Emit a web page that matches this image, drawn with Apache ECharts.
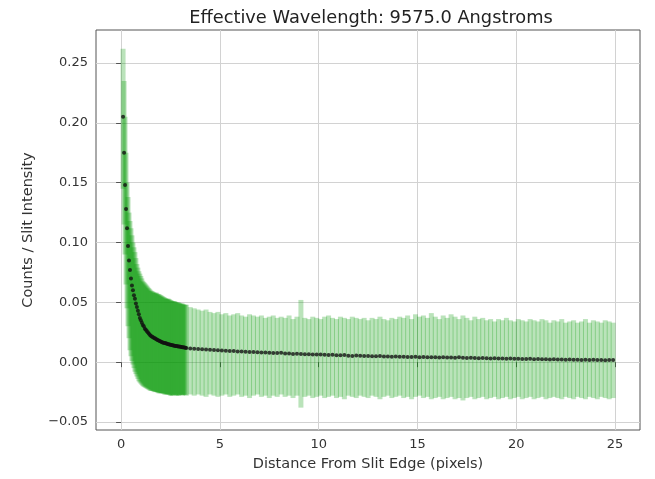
<!DOCTYPE html>
<html>
<head>
<meta charset="utf-8">
<script src="https://cdn.jsdelivr.net/npm/echarts/dist/echarts.min.js"></script>
<style>
html,body{margin:0;padding:0;background:#fff;}
#chart{width:655px;height:479px;}
</style>
</head>
<body>
<div id="chart"></div>
<script>
// ---- data ----
const titleText = 'Effective Wavelength: 9575.0 Angstroms';
const xName = 'Distance From Slit Edge (pixels)';
const yName = 'Counts / Slit Intensity';
const xTicks = [0, 5, 10, 15, 20, 25];
const yTicks = [-0.05, 0, 0.05, 0.10, 0.15, 0.20, 0.25];

const distance = [
  0.1,0.2,0.3,0.4,0.5,0.6,0.7,0.8,0.9,1.0,
  1.1,1.2,1.3,1.4,1.5,1.6,1.7,1.8,1.9,2.0,
  2.1,2.2,2.3,2.4,2.5,2.6,2.7,2.8,2.9,3.0,
  3.1,3.2,3.3,
  0.15,0.25,0.35,0.45,0.55,0.65,0.75,0.85,0.95,1.05,
  1.15,1.25,1.35,1.45,1.55,1.65,1.75,1.85,1.95,2.05,
  2.15,2.25,2.35,2.45,2.55,2.65,2.75,2.85,2.95,3.05,
  3.15,3.25,
  3.5,3.7,3.9,4.1,4.3,4.5,4.7,4.9,5.1,5.3,
  5.5,5.7,5.9,6.1,6.3,6.5,6.7,6.9,7.1,7.3,
  7.5,7.7,7.9,8.1,8.3,8.5,8.7,8.9,9.1,9.3,
  9.5,9.7,9.9,10.1,10.3,10.5,10.7,10.9,11.1,11.3,
  11.5,11.7,11.9,12.1,12.3,12.5,12.7,12.9,13.1,13.3,
  13.5,13.7,13.9,14.1,14.3,14.5,14.7,14.9,15.1,15.3,
  15.5,15.7,15.9,16.1,16.3,16.5,16.7,16.9,17.1,17.3,
  17.5,17.7,17.9,18.1,18.3,18.5,18.7,18.9,19.1,19.3,
  19.5,19.7,19.9,20.1,20.3,20.5,20.7,20.9,21.1,21.3,
  21.5,21.7,21.9,22.1,22.3,22.5,22.7,22.9,23.1,23.3,
  23.5,23.7,23.9,24.1,24.3,24.5,24.7,24.9
];
const counts = [
  .205,.148,.112,.085,.070,.060,.053,.046,.040,.035,
  .031,.028,.026,.024,.022,.021,.020,.019,.018,.0172,
  .0165,.016,.0155,.015,.0146,.0142,.0138,.0135,.0131,.0128,
  .0125,.0122,.0119,
  .175,.128,.097,.077,.064,.056,.049,.043,.037,.033,
  .030,.027,.025,.023,.0215,.0205,.0195,.0185,.0176,.0168,
  .0162,.0157,.0152,.0148,.0144,.0140,.0136,.0133,.0130,.0127,
  .0124,.0121,
  .0115,.0112,.0110,.0108,.0106,.0104,.0101,.0100,.0097,.0096,
  .0094,.0093,.0090,.0089,.0088,.0085,.0084,.0083,.0080,.0081,
  .0078,.0077,.0076,.0078,.0073,.0072,.0068,.0070,.0069,.0066,
  .0067,.0064,.0063,.0065,.0061,.0060,.0062,.0058,.0057,.0059,
  .0054,.0052,.0055,.0053,.0051,.0052,.0050,.0049,.0051,.0047,
  .0048,.0046,.0047,.0045,.0046,.0044,.0043,.0045,.0042,.0043,
  .0041,.0040,.0042,.0039,.0040,.0038,.0039,.0037,.0040,.0036,
  .0035,.0037,.0034,.0033,.0035,.0032,.0031,.0033,.0030,.0031,
  .0029,.0030,.0028,.0029,.0027,.0026,.0028,.0025,.0026,.0024,
  .0025,.0023,.0024,.0022,.0023,.0021,.0022,.0020,.0021,.0019,
  .0021,.0018,.0020,.0017,.0019,.0016,.0018,.0017
];
const upper = [
  .262,.205,.150,.125,.112,.100,.092,.082,.076,.072,
  .068,.066,.064,.062,.060,.059,.058,.058,.057,.056,
  .055,.054,.053,.053,.052,.051,.051,.050,.050,.049,
  .049,.048,.048,
  .235,.175,.138,.118,.106,.096,.087,.079,.074,.070,
  .067,.065,.063,.061,.0595,.0585,.058,.057,.0565,.0555,
  .0545,.0535,.053,.0525,.0515,.051,.0505,.050,.0495,.049,
  .0485,.048,
  .046,.045,.044,.043,.044,.042,.041,.042,.040,.041,
  .039,.040,.041,.039,.038,.040,.039,.038,.039,.037,
  .038,.039,.037,.038,.037,.039,.036,.038,.052,.037,
  .036,.038,.037,.036,.038,.039,.037,.036,.038,.037,
  .036,.038,.037,.036,.037,.035,.037,.036,.038,.036,
  .035,.037,.036,.038,.037,.039,.036,.040,.038,.039,
  .037,.041,.038,.036,.039,.037,.040,.038,.036,.039,
  .037,.035,.038,.036,.037,.035,.036,.034,.036,.035,
  .037,.035,.034,.036,.035,.034,.036,.035,.034,.036,
  .035,.033,.035,.034,.036,.033,.034,.035,.033,.034,
  .036,.033,.035,.034,.033,.035,.034,.033
];
const lower = [
  .145,.090,.045,.020,.005,-.002,-.008,-.012,-.016,-.018,
  -.020,-.021,-.022,-.023,-.024,-.024,-.025,-.025,-.026,-.026,
  -.026,-.027,-.027,-.027,-.028,-.028,-.027,-.028,-.028,-.027,
  -.028,-.027,-.028,
  .115,.065,.030,.010,.001,-.005,-.010,-.014,-.017,-.019,
  -.0205,-.0215,-.0225,-.0235,-.024,-.0245,-.025,-.0255,-.026,-.026,
  -.0265,-.027,-.027,-.0275,-.028,-.0275,-.0275,-.028,-.0275,-.0275,
  -.0275,-.0275,
  -.027,-.028,-.027,-.028,-.029,-.027,-.028,-.029,-.028,-.027,
  -.029,-.028,-.027,-.029,-.028,-.030,-.028,-.027,-.029,-.028,
  -.030,-.028,-.029,-.027,-.029,-.028,-.030,-.028,-.038,-.029,
  -.028,-.030,-.029,-.028,-.030,-.029,-.028,-.030,-.029,-.031,
  -.028,-.029,-.030,-.028,-.029,-.030,-.028,-.029,-.031,-.029,
  -.028,-.030,-.029,-.028,-.030,-.029,-.031,-.029,-.028,-.030,
  -.029,-.031,-.030,-.029,-.031,-.030,-.029,-.031,-.030,-.032,
  -.030,-.029,-.031,-.030,-.029,-.031,-.030,-.029,-.031,-.030,
  -.029,-.031,-.030,-.029,-.031,-.030,-.029,-.031,-.030,-.029,
  -.031,-.030,-.029,-.030,-.031,-.029,-.030,-.031,-.029,-.030,
  -.031,-.029,-.030,-.031,-.029,-.030,-.031,-.030
];

// ---- build series data ----
const n = Math.min(distance.length, counts.length, upper.length, lower.length);
const errData = [];
const ptData = [];
for (let i = 0; i < n; i++) {
  errData.push([distance[i], lower[i], upper[i]]);
  ptData.push([distance[i], counts[i]]);
}

const FONT = 'DejaVu Sans';
const chart = echarts.init(document.getElementById('chart'), null, {renderer: 'canvas'});
const fmtY = v => (v < 0 ? '\u2212' : '') + Math.abs(v).toFixed(2);

chart.setOption({
  animation: false,
  backgroundColor: '#ffffff',
  title: {
    text: titleText,
    left: 366, top: 4, textAlign: 'center',
    textStyle: {fontFamily: FONT, fontSize: 17.8, fontWeight: 'normal', color: '#222'}
  },
  grid: {
    left: 96, right: 15, top: 30, bottom: 49,
    show: true, borderColor: '#555', borderWidth: 1, backgroundColor: 'transparent'
  },
  xAxis: {
    type: 'value', min: -1.27, max: 26.26,
    name: xName, nameLocation: 'middle', nameGap: 27,
    nameTextStyle: {fontFamily: FONT, fontSize: 14.5, color: '#333'},
    axisLine: {show: false},
    axisTick: {show: true, length: 5, lineStyle: {color: '#555'}, customValues: xTicks},
    axisLabel: {fontFamily: FONT, fontSize: 13, color: '#333', margin: 8, customValues: xTicks,
      formatter: v => String(v)},
    splitLine: {show: true, lineStyle: {color: '#d2d2d2', width: 1}}
  },
  yAxis: {
    type: 'value', min: -0.0567, max: 0.2776,
    name: yName, nameLocation: 'middle', nameGap: 60, nameRotate: 90,
    nameTextStyle: {fontFamily: FONT, fontSize: 14.5, color: '#333'},
    axisLine: {show: false},
    axisTick: {show: true, length: 5, lineStyle: {color: '#555'}, customValues: yTicks},
    axisLabel: {fontFamily: FONT, fontSize: 13, color: '#333', margin: 8, customValues: yTicks,
      formatter: fmtY},
    splitLine: {show: true, lineStyle: {color: '#d2d2d2', width: 1}}
  },
  series: [
    {
      type: 'custom',
      clip: true,
      data: errData,
      encode: {x: 0, y: [1, 2]},
      renderItem: function (params, api) {
        const x = api.value(0);
        const p1 = api.coord([x, api.value(1)]);
        const p2 = api.coord([x, api.value(2)]);
        return {
          type: 'line',
          shape: {x1: p1[0], y1: p1[1], x2: p2[0], y2: p2[1]},
          style: {stroke: 'rgba(0,150,0,0.27)', lineWidth: 5}
        };
      },
      z: 2
    },
    {
      type: 'scatter',
      data: ptData,
      symbol: 'circle',
      symbolSize: 4,
      itemStyle: {color: '#111'},
      z: 3
    }
  ]
});
</script>
</body>
</html>
